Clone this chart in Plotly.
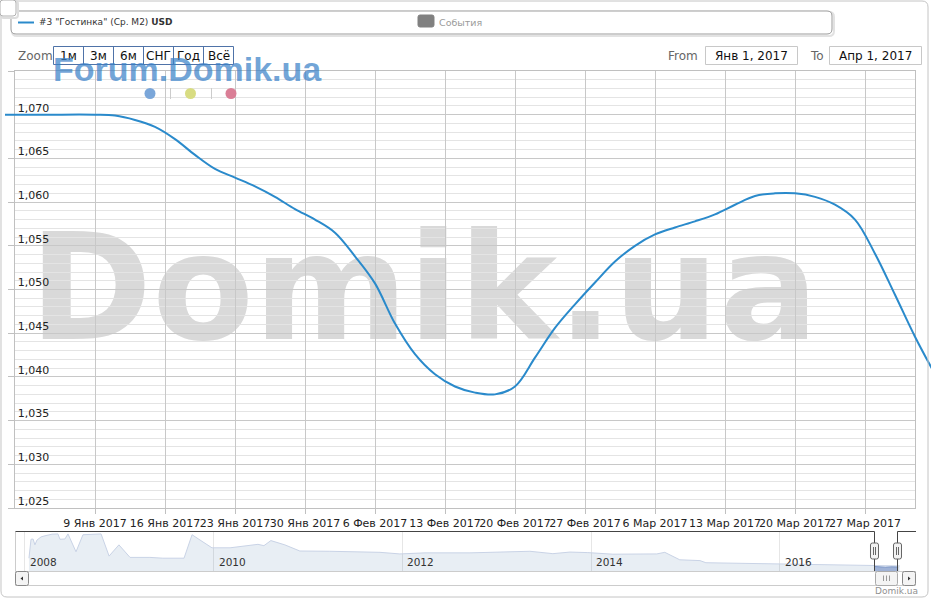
import plotly.graph_objects as go

W, H = 931, 600

# ---------------- data ----------------
series_name = '#3 "Гостинка" (Ср. М2) <b>USD</b>'
dates = ["2016-12-31", "2017-01-04", "2017-01-09", "2017-01-11", "2017-01-13", "2017-01-15",
         "2017-01-17", "2017-01-19", "2017-01-21", "2017-01-23", "2017-01-25", "2017-01-27",
         "2017-01-29", "2017-01-31", "2017-02-02", "2017-02-04", "2017-02-06", "2017-02-08",
         "2017-02-10", "2017-02-12", "2017-02-14", "2017-02-16", "2017-02-18", "2017-02-20",
         "2017-02-22", "2017-02-24", "2017-02-26", "2017-02-28", "2017-03-02", "2017-03-04",
         "2017-03-06", "2017-03-08", "2017-03-10", "2017-03-12", "2017-03-14", "2017-03-16",
         "2017-03-18", "2017-03-20", "2017-03-22", "2017-03-24", "2017-03-26", "2017-03-28",
         "2017-03-30", "2017-04-01", "2017-04-03"]
values = [1.0700, 1.0700, 1.0700, 1.0699, 1.0694, 1.0686,
          1.0672, 1.0654, 1.0638, 1.0628, 1.0618, 1.0606,
          1.0592, 1.0580, 1.0565, 1.0538, 1.0507, 1.0461,
          1.0426, 1.0403, 1.0389, 1.0382, 1.0380, 1.0389,
          1.0422, 1.0456, 1.0483, 1.0508, 1.0532, 1.0550,
          1.0563, 1.0571, 1.0578, 1.0586, 1.0597, 1.0607,
          1.0610, 1.0610, 1.0606, 1.0597, 1.0580, 1.0541,
          1.0494, 1.0446, 1.0403]

x_tick_dates = ["2017-01-02", "2017-01-09", "2017-01-16", "2017-01-23", "2017-01-30", "2017-02-06",
                "2017-02-13", "2017-02-20", "2017-02-27", "2017-03-06", "2017-03-13", "2017-03-20",
                "2017-03-27"]
x_tick_labels = ["", "9 Янв 2017", "16 Янв 2017", "23 Янв 2017", "30 Янв 2017", "6 Фев 2017",
                 "13 Фев 2017", "20 Фев 2017", "27 Фев 2017", "6 Мар 2017", "13 Мар 2017",
                 "20 Мар 2017", "27 Мар 2017"]
y_tick_vals = [1.025, 1.030, 1.035, 1.040, 1.045, 1.050, 1.055, 1.060, 1.065, 1.070, 1.075]
y_tick_labels = ["1,025", "1,030", "1,035", "1,040", "1,045", "1,050", "1,055", "1,060",
                 "1,065", "1,070", ""]

nav_dates = ["2008-01-18", "2008-01-26", "2008-02-03", "2008-02-10", "2008-02-18", "2008-03-05",
             "2008-03-20", "2008-04-16", "2008-05-09", "2008-05-17", "2008-06-05", "2008-06-17",
             "2008-07-18", "2008-08-14", "2008-10-23", "2008-11-23", "2008-12-31", "2009-02-12",
             "2009-04-30", "2009-06-19", "2009-09-09", "2009-10-10", "2009-11-10", "2009-12-26",
             "2010-03-06", "2010-05-03", "2010-06-22", "2010-07-15", "2010-08-11", "2010-10-04",
             "2010-12-01", "2011-03-27", "2011-10-07", "2011-12-23", "2012-03-29", "2012-09-19",
             "2013-05-09", "2013-08-06", "2013-10-11", "2013-12-19", "2014-03-26", "2014-09-12",
             "2014-10-13", "2014-12-10", "2015-02-26", "2015-03-21", "2015-07-30", "2016-01-01",
             "2016-06-04", "2016-12-14", "2017-04-09"]
nav_values = [1.38, 2.09, 2.10, 1.88, 2.06, 2.18,
              2.22, 2.28, 2.29, 2.09, 2.10, 2.29,
              1.62, 2.26, 2.29, 1.46, 1.88, 1.41,
              1.41, 1.38, 1.38, 2.26, 2.06, 1.77,
              1.77, 1.85, 1.90, 1.85, 2.04, 1.88,
              1.65, 1.64, 1.60, 1.54, 1.58, 1.58,
              1.64, 1.55, 1.61, 1.59, 1.53, 1.54,
              1.60, 1.32, 1.29, 1.21, 1.19, 1.14,
              1.13, 1.10, 1.09]
nav_year_ticks = ["2008-01-01", "2010-01-01", "2012-01-01", "2014-01-01", "2016-01-01"]
nav_year_labels = ["2008", "2010", "2012", "2014", "2016"]

zoom_buttons = ["1м", "3м", "6м", "СНГ", "Год", "Всё"]
range_from, range_to = "Янв 1, 2017", "Апр 1, 2017"

# ---------------- helpers (pixel -> paper) ----------------
def px(x):
    return x / W


def py(y):
    return 1 - y / H


shapes = []
annotations = []


def rect(x0, y0, x1, y1, line="#c0c0c0", fill="rgba(0,0,0,0)", width=1, layer="above"):
    shapes.append(dict(type="rect", xref="paper", yref="paper", x0=px(x0), x1=px(x1),
                       y0=py(y1), y1=py(y0), line=dict(color=line, width=width),
                       fillcolor=fill, layer=layer))


def rrect(x0, y0, x1, y1, r, line="#c0c0c0", fill="rgba(0,0,0,0)", width=1, layer="above"):
    pts = lambda x, y: f"{px(x):.6f},{py(y):.6f}"
    path = (f"M{pts(x0 + r, y0)} L{pts(x1 - r, y0)} Q{pts(x1, y0)} {pts(x1, y0 + r)} "
            f"L{pts(x1, y1 - r)} Q{pts(x1, y1)} {pts(x1 - r, y1)} L{pts(x0 + r, y1)} "
            f"Q{pts(x0, y1)} {pts(x0, y1 - r)} L{pts(x0, y0 + r)} Q{pts(x0, y0)} {pts(x0 + r, y0)} Z")
    shapes.append(dict(type="path", xref="paper", yref="paper", path=path,
                       line=dict(color=line, width=width), fillcolor=fill, layer=layer))


def seg(x0, y0, x1, y1, color="#c0c0c0", width=1):
    shapes.append(dict(type="line", xref="paper", yref="paper", x0=px(x0), x1=px(x1),
                       y0=py(y0), y1=py(y1), line=dict(color=color, width=width)))


def circle(cx, cy, r, color):
    shapes.append(dict(type="circle", xref="paper", yref="paper", x0=px(cx - r), x1=px(cx + r),
                       y0=py(cy + r), y1=py(cy - r), line=dict(width=0), fillcolor=color))


def text(x, y, s, size, color="#333333", xanchor="left", family="DejaVu Sans"):
    annotations.append(dict(text=s, x=px(x), y=py(y), xref="paper", yref="paper",
                            xanchor=xanchor, yanchor="middle", showarrow=False,
                            font=dict(family=family, size=size, color=color)))


# ---------------- figure ----------------
fig = go.Figure()

# invisible carrier for main grid subplot
fig.add_trace(go.Scatter(x=dates, y=values, mode="lines", opacity=0, hoverinfo="skip",
                         xaxis="x", yaxis="y"))
# main line (overlay subplot that extends past the grid like the original)
fig.add_trace(go.Scatter(x=dates, y=values, mode="lines", line=dict(color="#2a8acb", width=2,
                         shape="spline"), xaxis="x2", yaxis="y2", hoverinfo="x+y"))
# navigator
fig.add_trace(go.Scatter(x=nav_dates, y=nav_values, mode="lines", fill="tozeroy",
                         fillcolor="rgba(69,114,167,0.12)", line=dict(color="#c9d3e6", width=1),
                         xaxis="x3", yaxis="y3", hoverinfo="skip"))
fig.add_trace(go.Scatter(x=dates, y=values, mode="lines", fill="tozeroy",
                         fillcolor="#9fb2d6", line=dict(color="#7d97c8", width=1),
                         xaxis="x3", yaxis="y3", hoverinfo="skip"))

main_dom_x = [px(15), px(915)]
main_dom_y = [py(508), py(71)]

fig.update_layout(
    width=W, height=H,
    margin=dict(l=0, r=0, t=0, b=0, pad=0),
    paper_bgcolor="white", plot_bgcolor="rgba(0,0,0,0)",
    showlegend=False,
    font=dict(family="DejaVu Sans", color="#333333"),
    xaxis=dict(type="date", domain=main_dom_x, anchor="y", range=["2017-01-01", "2017-04-01"],
               tickmode="array", tickvals=x_tick_dates, ticktext=x_tick_labels, tickangle=0,
               ticks="outside", ticklen=5, tickcolor="#c0c0c0", showgrid=True,
               gridcolor="#c8c8c8", showline=True, linecolor="#c0c0c0", mirror=True,
               tickfont=dict(size=11, color="#222222"), zeroline=False, fixedrange=True),
    yaxis=dict(domain=main_dom_y, anchor="x", range=[1.025, 1.075], tickmode="array",
               tickvals=y_tick_vals, ticktext=y_tick_labels, ticks="outside", ticklen=6,
               tickcolor="#c0c0c0", ticklabelposition="inside", ticklabelstandoff=2,
               ticklabelshift=-7, showgrid=True, gridcolor="#c8c8c8", showline=True,
               linecolor="#c0c0c0", mirror=True, zeroline=False,
               tickfont=dict(size=11, color="#222222"),
               minor=dict(tickmode="linear", tick0=1.025, dtick=0.001, showgrid=True,
                          gridcolor="#e4e4e4", ticks="")),
    xaxis2=dict(type="date", domain=[px(5), 1.0], anchor="y2",
                range=["2016-12-31 00:00", "2017-04-02 14:24"], visible=False),
    yaxis2=dict(domain=main_dom_y, anchor="x2", range=[1.025, 1.075], visible=False),
    xaxis3=dict(type="date", domain=[px(15), px(915)], anchor="y3",
                range=["2007-11-25", "2017-06-07"], tickmode="array", tickvals=nav_year_ticks,
                showticklabels=False, ticks="", showgrid=True, gridcolor="#e6e6e6",
                showline=False, zeroline=False),
    yaxis3=dict(domain=[py(571), py(531)], anchor="x3", range=[0.9, 2.4], visible=False),
)

# big watermark (under the grid)
shapes.append(dict(type="rect", xref="paper", yref="paper", x0=px(19), x1=px(829),
                   y0=py(342), y1=py(212), line=dict(width=0), fillcolor="rgba(0,0,0,0)",
                   layer="below",
                   label=dict(text="<b>Domik.ua</b>", textposition="middle center",
                              font=dict(family="DejaVu Sans", size=148, color="#d9d9d9"))))

# outer chart border
rrect(1, 1, 928, 597, 6, line="#c4c4c4")

# legend box with shadow
rrect(12, 12, 834, 36, 5, line="#e2e2e2", width=2)
rrect(11, 11, 832, 34, 5, line="#9a9a9a", fill="white")
seg(18, 22.5, 34, 22.5, color="#2a8acb", width=2)
text(37, 22.5, series_name, 9, color="#333333")
rrect(418, 15, 434, 27, 2, line="#808080", fill="#808080")
text(437, 22.5, "События", 9.5, color="#9a9a9a")

# small top-left button
rrect(1, 1, 18, 18, 3, line="#dddddd", fill="white", width=2)
rrect(0, 0, 16, 16, 3, line="#b0b0b0", fill="white")

# zoom buttons
text(16, 56, "Zoom", 12, color="#666666")
rect(53.5, 46.5, 233.5, 64.5, line="#4f73a8", fill="white")
for i, lab in enumerate(zoom_buttons):
    if i > 0:
        seg(53.5 + 30 * i, 46.5, 53.5 + 30 * i, 64.5, color="#4f73a8")
    text(68.5 + 30 * i, 55.5, lab, 12, color="#111111", xanchor="center")

# from / to inputs
text(700, 56, "From", 12, color="#666666", xanchor="right")
rect(705.5, 46.5, 797.5, 64.5, line="#c8c8c8", fill="white")
text(751.5, 55.5, range_from, 12, color="#111111", xanchor="center")
text(808, 56, "To", 12, color="#666666")
rect(829.5, 46.5, 921.5, 64.5, line="#c8c8c8", fill="white")
text(875.5, 55.5, range_to, 12, color="#111111", xanchor="center")

# Forum.Domik.ua watermark + dots
text(51, 69, "<b>Forum.Domik.ua</b>", 34, color="rgba(60,130,200,0.72)", family="Liberation Sans")
circle(150, 93.5, 5.5, "#7aa6d9")
circle(190.5, 93.5, 5.5, "#d8dc82")
circle(231, 93.5, 5.5, "#da7e96")
seg(170.5, 88, 170.5, 99, color="#cccccc")
seg(211.5, 88, 211.5, 99, color="#cccccc")

# navigator frame
seg(15.5, 531.5, 15.5, 571.5, color="#cccccc")
seg(15.5, 571.5, 916, 571.5, color="#cccccc")
seg(15.5, 531.5, 874.5, 531.5, color="#444444")
seg(874.5, 531.5, 874.5, 571.5, color="#444444")
seg(897.5, 571.5, 897.5, 531.5, color="#444444")
seg(897.5, 531.5, 916, 531.5, color="#444444")
for hx in (874.5, 897.5):
    rrect(hx - 4, 543, hx + 4, 559, 2, line="#666666", fill="#f2f2f2")
    seg(hx - 1, 547, hx - 1, 555, color="#666666")
    seg(hx + 1, 547, hx + 1, 555, color="#666666")

# year labels in navigator
for d, lab in zip(nav_year_ticks, nav_year_labels):
    annotations.append(dict(text=lab, x=d, y=py(562), xref="x3", yref="paper", xanchor="left",
                            yanchor="middle", xshift=3, showarrow=False,
                            font=dict(family="DejaVu Sans", size=10.5, color="#333333")))

# scrollbar
rect(15.5, 571.5, 915.5, 585.5, line="#cccccc", fill="white")
rrect(15.5, 571.5, 28.5, 585.5, 2, line="#888888", fill="#f4f4f4")
rrect(902.5, 571.5, 915.5, 585.5, 2, line="#888888", fill="#f4f4f4")
rrect(875.5, 571.5, 897.5, 585.5, 2, line="#aaaaaa", fill="#f4f4f4")
for gx in (883.5, 886.5, 889.5):
    seg(gx, 575.5, gx, 581, color="#999999")
shapes.append(dict(type="path", xref="paper", yref="paper",
                   path=f"M{px(20.5)},{py(578.5)} L{px(23)},{py(576.5)} L{px(23)},{py(580.5)} Z",
                   fillcolor="#333333", line=dict(width=0)))
shapes.append(dict(type="path", xref="paper", yref="paper",
                   path=f"M{px(910.5)},{py(578.5)} L{px(908)},{py(576.5)} L{px(908)},{py(580.5)} Z",
                   fillcolor="#333333", line=dict(width=0)))

# credit
text(920, 591, "Domik.ua", 9, color="#909090", xanchor="right")

fig.update_layout(shapes=shapes, annotations=annotations)
fig.write_html("out.html", config={"displayModeBar": False},
               post_script="document.body.style.margin='0';")
